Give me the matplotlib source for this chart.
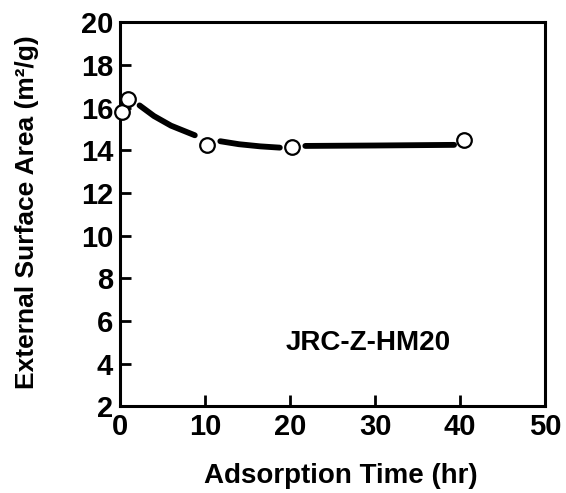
import matplotlib
matplotlib.use("Agg")
import matplotlib.pyplot as plt

# measured points (open circles)
time_hr = [0.25, 0.95, 10.2, 20.2, 40.5]
area = [15.8, 16.4, 14.25, 14.15, 14.5]

# hand-drawn trend curve, three pieces between the markers
curve_x1 = [2.3, 4.0, 6.0, 8.8]
curve_y1 = [16.1, 15.6, 15.15, 14.7]
curve_x2 = [11.8, 14.0, 16.5, 18.8]
curve_y2 = [14.42, 14.28, 14.18, 14.12]
curve_x3 = [21.8, 30.0, 39.3]
curve_y3 = [14.2, 14.22, 14.25]

xticks = [0, 10, 20, 30, 40, 50]
yticks = [2, 4, 6, 8, 10, 12, 14, 16, 18, 20]

plt.rcParams['font.family'] = ['Liberation Sans', 'DejaVu Sans']
plt.rcParams['font.weight'] = 'bold'

fig = plt.figure(figsize=(5.66, 4.93), dpi=100)
ax = fig.add_axes([0.212, 0.176, 0.751, 0.779])

for cx, cy in [(curve_x1, curve_y1), (curve_x2, curve_y2), (curve_x3, curve_y3)]:
    ax.plot(cx, cy, color='black', lw=4.2, solid_capstyle='round')
ax.plot(time_hr, area, 'o', ms=10.5, mfc='white', mec='black', mew=1.6, zorder=5,
        clip_on=False)

ax.set_xlim(0, 50)
ax.set_ylim(2, 20)
ax.set_xticks(xticks)
ax.set_yticks(yticks)
ax.tick_params(direction='in', length=8, width=2, labelsize=21, pad=5)
for lab in ax.get_xticklabels() + ax.get_yticklabels():
    lab.set_fontweight('bold')
for s in ax.spines.values():
    s.set_linewidth(2.2)

ax.text(29.2, 4.95, 'JRC-Z-HM20', fontsize=20, fontweight='bold', ha='center', va='center')

fig.text(0.047, 0.57, 'External Surface Area (m²/g)', rotation=90, fontsize=19,
         fontweight='bold', ha='center', va='center')
fig.text(0.603, 0.034, 'Adsorption Time (hr)', fontsize=20, fontweight='bold',
         ha='center', va='center')

fig.savefig('out.png', dpi=100)
